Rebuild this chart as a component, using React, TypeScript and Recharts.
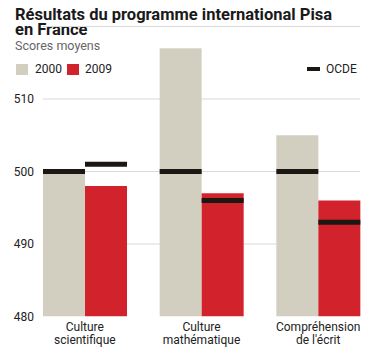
import React from "react";
import { ComposedChart, Bar, XAxis, YAxis, CartesianGrid } from "recharts";

const categories = ["Culture scientifique", "Culture mathématique", "Compréhension de l'écrit"];
const labelLines = [["Culture", "scientifique"], ["Culture", "mathématique"], ["Compréhension", "de l'écrit"]];
const scores2000 = [500, 517, 505];
const scores2009 = [498, 497, 496];
const ocde2000 = [500, 500, 500];
const ocde2009 = [501, 496, 493];
const yTicks = [480, 490, 500, 510];

const data = categories.map((c, i) => ({
  cat: c,
  s2000: scores2000[i],
  s2009: scores2009[i],
  o2000: [ocde2000[i] - 0.35, ocde2000[i] + 0.35],
  o2009: [ocde2009[i] - 0.35, ocde2009[i] + 0.35],
}));

const BEIGE = "#d3cfc0";
const RED = "#d2232d";
const BLACK = "#1c1713";
const FONT = "Roboto, 'Noto Sans', sans-serif";

const CatTick = (props: any) => {
  const { x, y, payload } = props;
  const idx = categories.indexOf(payload.value);
  const lines = labelLines[idx] || [payload.value];
  return (
    <text x={x} y={y} textAnchor="middle" fill="#222" fontSize={12} fontFamily={FONT}>
      {lines.map((l, i) => (
        <tspan key={i} x={x} dy={i === 0 ? 14.5 : 12.5}>
          {l}
        </tspan>
      ))}
    </text>
  );
};

const GridLine = (props: any) => {
  const { x1, x2, y1, y2 } = props;
  if (y1 > 310) return <g />;
  return <line x1={x1} x2={x2} y1={y1} y2={y2} stroke="#d9d9d9" strokeWidth={1} />;
};

const titleStyle: React.CSSProperties = {
  position: "absolute",
  left: 15,
  fontSize: 16.5,
  lineHeight: "15px",
  fontWeight: 700,
  color: "#1a1a1a",
  whiteSpace: "nowrap",
};

export default function App() {
  return (
    <div style={{ position: "fixed", left: 0, top: 0, width: 382, height: 353, background: "#fff", fontFamily: FONT }}>
      <div style={{ ...titleStyle, top: 6.5 }}>Résultats du programme international Pisa</div>
      <div style={{ ...titleStyle, top: 22 }}>en France</div>
      <div style={{ position: "absolute", left: 15, top: 38.5, fontSize: 12.5, lineHeight: "14px", color: "#666" }}>Scores moyens</div>
      <div style={{ position: "absolute", left: 16, top: 64, width: 12, height: 11, background: BEIGE }} />
      <div style={{ position: "absolute", left: 35, top: 62, fontSize: 12, lineHeight: "14px", color: "#222" }}>2000</div>
      <div style={{ position: "absolute", left: 67, top: 64, width: 12, height: 11, background: RED }} />
      <div style={{ position: "absolute", left: 85, top: 62, fontSize: 12, lineHeight: "14px", color: "#222" }}>2009</div>
      <div style={{ position: "absolute", left: 307, top: 67, width: 13, height: 4, background: BLACK }} />
      <div style={{ position: "absolute", left: 326, top: 62, fontSize: 12, lineHeight: "14px", color: "#222" }}>OCDE</div>
      <ComposedChart
        width={382}
        height={353}
        data={data}
        margin={{ top: 26.5, right: 22, bottom: 0, left: 0 }}
        barCategoryGap={16.5}
        barGap={0}
        style={{ position: "absolute", left: 0, top: 0 }}
      >
        <CartesianGrid vertical={false} horizontal={GridLine as any} />
        <XAxis
          dataKey="cat"
          xAxisId="main"
          height={36.5}
          tickLine={false}
          axisLine={false}
          tickSize={0}
          tickMargin={0}
          interval={0}
          padding={{ left: -16.5, right: -16.5 }}
          tick={<CatTick />}
        />
        <XAxis dataKey="cat" xAxisId="ocde" hide padding={{ left: -16.5, right: -16.5 }} />
        <YAxis
          width={43}
          domain={[480, 520]}
          ticks={yTicks}
          interval={0}
          allowDataOverflow
          tickLine={false}
          axisLine={false}
          tickMargin={3}
          tick={{ fill: "#222", fontSize: 12, fontFamily: FONT }}
        />
        <Bar xAxisId="main" dataKey="s2000" fill={BEIGE} isAnimationActive={false} />
        <Bar xAxisId="main" dataKey="s2009" fill={RED} isAnimationActive={false} />
        <Bar xAxisId="ocde" dataKey="o2000" fill={BLACK} isAnimationActive={false} />
        <Bar xAxisId="ocde" dataKey="o2009" fill={BLACK} isAnimationActive={false} />
      </ComposedChart>
    </div>
  );
}
